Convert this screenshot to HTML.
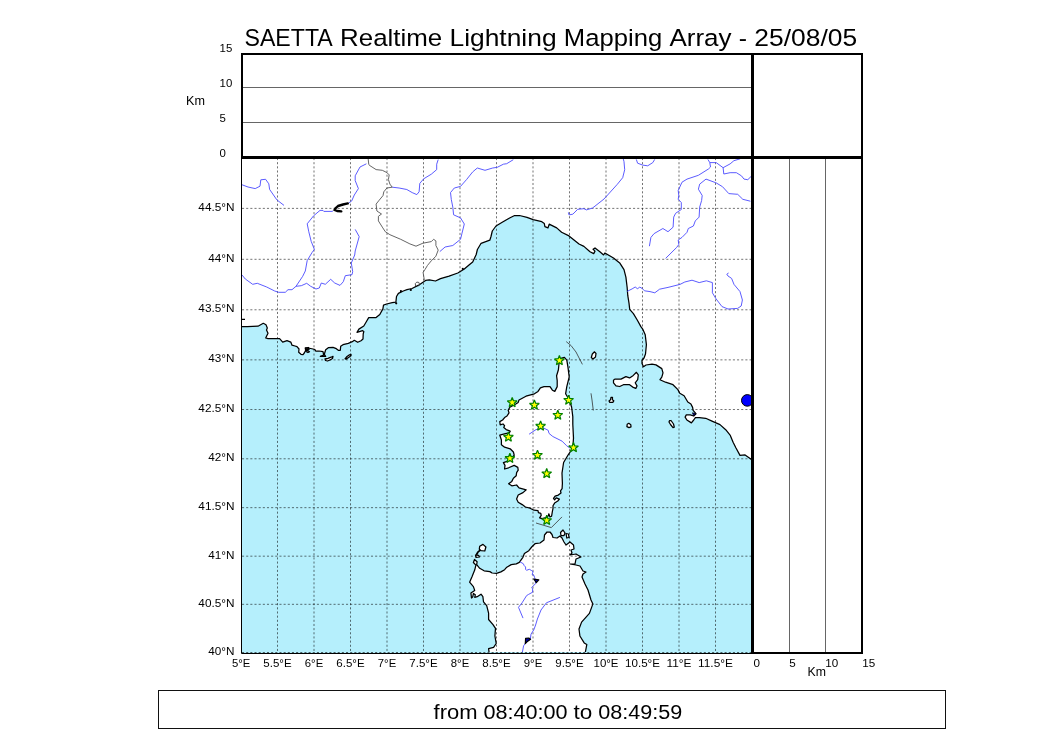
<!DOCTYPE html>
<html><head><meta charset="utf-8"><title>SAETTA</title>
<style>html,body{margin:0;padding:0;background:#fff;width:1050px;height:750px;overflow:hidden}
body{position:relative;font-family:"Liberation Sans",sans-serif}
svg text{font-family:"Liberation Sans",sans-serif}</style></head>
<body>
<svg width="1050" height="750" viewBox="0 0 1050 750" style="position:absolute;left:0;top:0;will-change:transform">
<defs><clipPath id="mc"><rect x="241.5" y="157.5" width="510" height="495.5"/></clipPath></defs>
<text x="244.50" y="46" font-size="24.5" textLength="88.31" lengthAdjust="spacingAndGlyphs" >SAETTA</text>
<text x="340.09" y="46" font-size="24.5" textLength="102.13" lengthAdjust="spacingAndGlyphs" >Realtime</text>
<text x="449.50" y="46" font-size="24.5" textLength="107.08" lengthAdjust="spacingAndGlyphs" >Lightning</text>
<text x="563.86" y="46" font-size="24.5" textLength="98.28" lengthAdjust="spacingAndGlyphs" >Mapping</text>
<text x="669.41" y="46" font-size="24.5" textLength="62.08" lengthAdjust="spacingAndGlyphs" >Array</text>
<text x="738.77" y="46" font-size="24.5" textLength="8.26" lengthAdjust="spacingAndGlyphs" >-</text>
<text x="754.32" y="46" font-size="24.5" textLength="102.85" lengthAdjust="spacingAndGlyphs" >25/08/05</text>
<g clip-path="url(#mc)">
<rect x="241" y="157" width="511" height="496" fill="#b5effc"/>
<polygon points="241.5,326.6 247.4,326.6 258.0,326.2 263.3,323.3 266.0,324.7 267.3,328.0 266.5,330.0 268.0,333.3 265.7,338.0 268.0,338.7 279.6,338.6 282.7,342.1 287.0,340.6 290.8,342.1 292.0,345.2 295.0,346.0 297.0,346.7 299.0,349.0 298.7,352.3 301.0,354.3 303.0,354.7 304.3,353.0 305.7,350.3 305.3,348.3 308.3,348.0 313.0,349.0 315.0,349.7 315.7,351.0 319.0,351.0 323.0,351.7 323.7,355.0 320.3,356.3 325.7,356.3 324.3,354.3 325.7,349.7 328.3,347.7 333.0,347.3 336.3,348.7 338.3,350.3 340.3,350.3 340.7,346.3 343.0,344.7 348.3,343.3 352.3,341.7 354.3,340.3 357.7,342.3 361.0,340.7 363.0,339.0 363.2,334.0 363.8,331.6 362.6,330.7 357.0,332.4 358.9,329.1 363.8,326.0 366.3,321.7 368.7,317.6 376.1,317.6 379.8,314.5 382.9,308.9 383.5,305.2 386.6,304.0 392.2,302.7 395.9,302.1 396.5,296.5 398.4,293.4 403.3,291.0 407.0,289.7 412.0,288.5 418.2,285.4 421.9,282.9 425.6,280.4 429.3,279.8 435.5,281.0 440.5,278.6 449.1,276.1 457.8,273.0 464.0,269.3 469.0,265.0 472.7,261.9 476.2,254.5 477.4,249.5 481.1,243.3 489.8,240.2 491.0,236.5 492.3,231.0 496.0,226.0 502.2,222.3 509.6,218.0 514.6,215.5 519.5,215.5 527.0,217.3 533.1,219.6 541.8,221.7 544.3,223.5 544.9,226.6 548.0,227.9 549.2,224.1 556.7,227.9 561.6,232.2 569.0,235.9 579.0,244.0 583.9,246.4 590.0,251.8 593.7,253.6 595.0,251.1 593.1,249.3 595.0,248.0 599.9,251.8 603.6,254.9 604.9,253.0 613.5,258.0 619.7,262.9 624.0,269.7 625.9,277.1 627.1,287.0 627.8,295.7 629.0,303.1 629.7,309.3 633.4,313.6 637.1,319.8 640.9,326.6 642.7,329.1 645.2,334.7 646.4,344.6 645.5,354.0 644.0,358.0 642.0,360.5 642.0,363.6 643.5,366.8 646.0,365.0 652.0,364.2 656.0,364.9 661.8,368.6 663.0,372.9 661.8,377.2 660.0,379.7 665.5,382.2 673.0,384.7 677.9,389.6 679.8,393.3 684.1,395.8 687.8,402.0 690.9,404.0 692.6,407.4 693.1,410.3 696.0,413.7 693.7,416.0 690.3,414.9 686.3,414.9 685.1,417.1 686.9,420.0 691.4,422.9 693.7,420.0 695.4,417.7 699.4,417.7 705.7,418.3 712.0,421.1 720.0,424.6 725.7,429.7 730.3,435.4 733.1,442.3 736.0,448.0 740.0,455.4 745.1,454.9 751.5,459.4 751.5,157.5 241.5,157.5" fill="#fff"/>
<polygon points="564.4,357.3 566.8,360.2 568.0,367.4 569.2,377.0 566.8,386.6 565.6,393.8 569.2,399.8 571.6,407.0 572.8,416.6 572.8,424.2 573.5,438.0 572.8,448.0 568.2,454.8 563.6,462.5 562.0,473.2 562.4,483.3 562.1,488.7 560.5,490.8 561.0,493.0 558.3,495.1 555.1,496.2 553.5,498.3 554.6,499.9 556.2,497.8 559.4,499.1 557.8,501.0 554.6,503.1 553.0,505.8 553.0,508.4 552.4,511.4 551.6,516.2 550.0,517.0 548.8,513.8 548.4,515.8 546.0,517.5 542.0,518.6 539.6,517.8 541.2,515.4 540.8,513.4 538.4,512.6 538.0,510.6 534.0,510.2 530.0,508.2 525.4,507.0 522.2,504.6 518.2,502.2 516.6,499.0 518.2,495.0 523.0,492.6 526.2,489.8 519.0,487.8 516.6,485.0 511.8,485.8 508.6,483.8 511.8,481.4 513.4,478.2 516.2,475.8 516.6,472.6 518.2,470.2 517.8,467.4 514.2,465.4 508.6,467.8 504.6,469.0 505.0,465.4 503.4,462.6 507.0,461.4 511.8,459.8 511.8,457.6 514.2,455.2 513.4,452.0 510.2,448.8 504.6,447.2 501.4,444.8 501.4,440.0 499.8,435.2 505.4,433.6 509.4,432.8 510.2,431.2 506.2,429.6 503.8,427.6 504.6,425.6 503.0,424.0 500.2,424.8 499.8,421.6 502.6,420.0 504.6,417.6 507.0,416.0 509.0,412.8 508.2,410.4 509.8,407.2 512.6,405.6 515.8,404.0 518.2,402.4 519.0,400.0 526.0,396.2 534.4,393.8 538.0,391.4 540.4,387.8 544.0,386.6 550.0,386.6 552.4,390.2 554.8,391.4 557.2,386.6 557.2,380.6 556.6,375.8 558.4,369.8 559.0,363.8 560.8,358.4" fill="#fff" stroke="#000" stroke-width="1.25" stroke-linejoin="round"/>
<polygon points="585.1,653.5 586.8,644.6 584.2,642.9 579.9,636.0 579.0,629.0 581.6,622.1 589.4,613.4 592.9,603.9 591.0,600.0 588.0,590.0 585.0,584.0 582.0,577.0 583.0,574.0 586.0,572.0 583.0,571.0 580.0,566.0 576.0,565.0 570.0,564.0 575.0,564.0 576.0,559.0 581.0,557.0 576.0,554.0 570.0,555.0 572.0,553.0 571.0,550.0 574.0,549.0 573.5,545.0 570.0,542.0 566.0,545.0 564.0,542.0 562.0,538.0 560.0,536.0 557.0,538.0 553.0,537.5 552.0,534.5 550.0,532.0 547.0,532.0 544.5,535.0 544.0,540.0 540.0,543.0 535.0,543.7 531.7,547.0 528.8,550.7 524.4,553.6 522.9,557.3 519.3,562.4 516.3,563.9 511.2,564.6 506.8,567.2 504.6,569.7 500.9,571.9 496.5,573.4 492.1,573.0 489.9,571.6 484.1,570.8 479.7,568.3 476.7,564.6 477.1,561.7 474.5,559.5 473.4,562.5 475.9,565.1 474.7,570.1 472.1,576.5 469.6,582.2 473.4,586.6 474.7,590.4 470.9,592.9 471.5,598.0 472.8,596.7 473.4,593.5 475.3,594.8 474.7,597.3 477.2,596.7 481.0,594.2 482.9,596.7 483.5,601.8 486.7,605.6 488.6,613.2 488.6,619.5 493.0,624.6 495.5,628.4 494.9,636.0 496.2,643.5 493.6,647.3 488.6,648.6 489.2,653.5" fill="#fff"/>
<polyline points="585.1,653.5 586.8,644.6 584.2,642.9 579.9,636.0 579.0,629.0 581.6,622.1 589.4,613.4 592.9,603.9 591.0,600.0 588.0,590.0 585.0,584.0 582.0,577.0 583.0,574.0 586.0,572.0 583.0,571.0 580.0,566.0 576.0,565.0 570.0,564.0 575.0,564.0 576.0,559.0 581.0,557.0 576.0,554.0 570.0,555.0 572.0,553.0 571.0,550.0 574.0,549.0 573.5,545.0 570.0,542.0 566.0,545.0 564.0,542.0 562.0,538.0 560.0,536.0 557.0,538.0 553.0,537.5 552.0,534.5 550.0,532.0 547.0,532.0 544.5,535.0 544.0,540.0 540.0,543.0 535.0,543.7 531.7,547.0 528.8,550.7 524.4,553.6 522.9,557.3 519.3,562.4 516.3,563.9 511.2,564.6 506.8,567.2 504.6,569.7 500.9,571.9 496.5,573.4 492.1,573.0 489.9,571.6 484.1,570.8 479.7,568.3 476.7,564.6 477.1,561.7 474.5,559.5 473.4,562.5 475.9,565.1 474.7,570.1 472.1,576.5 469.6,582.2 473.4,586.6 474.7,590.4 470.9,592.9 471.5,598.0 472.8,596.7 473.4,593.5 475.3,594.8 474.7,597.3 477.2,596.7 481.0,594.2 482.9,596.7 483.5,601.8 486.7,605.6 488.6,613.2 488.6,619.5 493.0,624.6 495.5,628.4 494.9,636.0 496.2,643.5 493.6,647.3 488.6,648.6 489.2,653.5" fill="none" stroke="#000" stroke-width="1.25" stroke-linejoin="round"/>
<polygon points="479.7,546.3 483.0,544.4 485.9,547.0 484.8,551.0 481.1,550.7 479.3,549.2" fill="#fff" stroke="#000" stroke-width="1.25" stroke-linejoin="round"/>
<polygon points="560.5,532.5 563.0,530.0 565.0,533.0 564.0,535.5 561.0,535.5" fill="#fff" stroke="#000" stroke-width="1.25" stroke-linejoin="round"/>
<polygon points="566.0,533.5 568.5,534.0 569.0,537.5 566.8,538.0" fill="#fff" stroke="#000" stroke-width="1.25" stroke-linejoin="round"/>
<polygon points="475.5,555.0 478.5,555.3 479.5,557.0 476.0,557.5" fill="#fff" stroke="#000" stroke-width="1.25" stroke-linejoin="round"/>
<polygon points="594.5,351.8 596.0,353.5 595.5,357.0 593.0,359.0 591.3,357.5 592.3,354.0" fill="#fff" stroke="#000" stroke-width="1.25" stroke-linejoin="round"/>
<polygon points="613.5,380.3 614.8,379.1 621.0,379.1 625.9,376.6 629.6,377.9 633.3,375.4 636.4,372.3 638.3,374.8 637.7,379.7 635.2,382.8 637.0,385.9 635.8,388.4 632.7,387.1 629.6,384.7 623.4,384.7 619.7,386.5 616.0,385.9 613.5,382.8" fill="#fff" stroke="#000" stroke-width="1.25" stroke-linejoin="round"/>
<polygon points="611.0,397.3 612.5,397.3 612.4,399.8 613.8,400.8 612.8,402.4 609.8,402.4 609.0,401.0 610.5,399.8" fill="#fff" stroke="#000" stroke-width="1.25" stroke-linejoin="round"/>
<polygon points="628.8,423.3 630.8,424.8 631.0,426.8 629.0,427.6 626.9,426.6 627.2,424.3" fill="#fff" stroke="#000" stroke-width="1.25" stroke-linejoin="round"/>
<polygon points="669.5,420.7 671.0,420.5 673.5,424.0 674.3,427.2 673.0,427.6 670.5,424.5 669.0,422.0" fill="#fff" stroke="#000" stroke-width="1.25" stroke-linejoin="round"/>
<polygon points="325.0,358.8 328.0,358.3 331.0,357.2 333.0,356.3 332.5,358.5 330.0,360.0 327.5,361.0 325.5,360.5" fill="#fff" stroke="#000" stroke-width="1.25" stroke-linejoin="round"/>
<polygon points="345.0,358.8 347.0,356.5 349.5,354.8 351.0,354.3 351.0,355.8 348.5,357.5 346.0,359.3" fill="#fff" stroke="#000" stroke-width="1.25" stroke-linejoin="round"/>
<polygon points="305.3,347.8 308.5,347.5 309.0,349.5 307.0,350.5 309.5,351.8 308.0,352.5 305.8,351.5 306.5,349.8" fill="#fff" stroke="#000" stroke-width="1.25" stroke-linejoin="round"/>
<polyline points="241.5,326.6 247.4,326.6 258.0,326.2 263.3,323.3 266.0,324.7 267.3,328.0 266.5,330.0 268.0,333.3 265.7,338.0 268.0,338.7 279.6,338.6 282.7,342.1 287.0,340.6 290.8,342.1 292.0,345.2 295.0,346.0 297.0,346.7 299.0,349.0 298.7,352.3 301.0,354.3 303.0,354.7 304.3,353.0 305.7,350.3 305.3,348.3 308.3,348.0 313.0,349.0 315.0,349.7 315.7,351.0 319.0,351.0 323.0,351.7 323.7,355.0 320.3,356.3 325.7,356.3 324.3,354.3 325.7,349.7 328.3,347.7 333.0,347.3 336.3,348.7 338.3,350.3 340.3,350.3 340.7,346.3 343.0,344.7 348.3,343.3 352.3,341.7 354.3,340.3 357.7,342.3 361.0,340.7 363.0,339.0 363.2,334.0 363.8,331.6 362.6,330.7 357.0,332.4 358.9,329.1 363.8,326.0 366.3,321.7 368.7,317.6 376.1,317.6 379.8,314.5 382.9,308.9 383.5,305.2 386.6,304.0 392.2,302.7 395.9,302.1 396.5,296.5 398.4,293.4 403.3,291.0 407.0,289.7 412.0,288.5 418.2,285.4 421.9,282.9 425.6,280.4 429.3,279.8 435.5,281.0 440.5,278.6 449.1,276.1 457.8,273.0 464.0,269.3 469.0,265.0 472.7,261.9 476.2,254.5 477.4,249.5 481.1,243.3 489.8,240.2 491.0,236.5 492.3,231.0 496.0,226.0 502.2,222.3 509.6,218.0 514.6,215.5 519.5,215.5 527.0,217.3 533.1,219.6 541.8,221.7 544.3,223.5 544.9,226.6 548.0,227.9 549.2,224.1 556.7,227.9 561.6,232.2 569.0,235.9 579.0,244.0 583.9,246.4 590.0,251.8 593.7,253.6 595.0,251.1 593.1,249.3 595.0,248.0 599.9,251.8 603.6,254.9 604.9,253.0 613.5,258.0 619.7,262.9 624.0,269.7 625.9,277.1 627.1,287.0 627.8,295.7 629.0,303.1 629.7,309.3 633.4,313.6 637.1,319.8 640.9,326.6 642.7,329.1 645.2,334.7 646.4,344.6 645.5,354.0 644.0,358.0 642.0,360.5 642.0,363.6 643.5,366.8 646.0,365.0 652.0,364.2 656.0,364.9 661.8,368.6 663.0,372.9 661.8,377.2 660.0,379.7 665.5,382.2 673.0,384.7 677.9,389.6 679.8,393.3 684.1,395.8 687.8,402.0 690.9,404.0 692.6,407.4 693.1,410.3 696.0,413.7 693.7,416.0 690.3,414.9 686.3,414.9 685.1,417.1 686.9,420.0 691.4,422.9 693.7,420.0 695.4,417.7 699.4,417.7 705.7,418.3 712.0,421.1 720.0,424.6 725.7,429.7 730.3,435.4 733.1,442.3 736.0,448.0 740.0,455.4 745.1,454.9 751.5,459.4" fill="none" stroke="#000" stroke-width="1.25" stroke-linejoin="round"/>
<path d="M277.50,158V652 M314.00,158V652 M350.50,158V652 M387.00,158V652 M423.50,158V652 M460.00,158V652 M496.50,158V652 M533.00,158V652 M569.50,158V652 M606.00,158V652 M642.50,158V652 M679.00,158V652 M715.50,158V652 M242,604.32H751 M242,556.18H751 M242,507.67H751 M242,458.79H751 M242,409.52H751 M242,359.86H751 M242,309.79H751 M242,259.30H751 M242,208.39H751" stroke="#000" stroke-width="1" stroke-dasharray="2.08 2.08" fill="none" opacity="0.55"/>
<polyline points="241.6,184.6 248.0,187.0 255.2,188.6 260.0,186.2 260.8,179.8 265.6,179.3 268.8,183.8 269.6,189.4 276.8,199.8 284.0,205.4" fill="none" stroke="#4a4aff" stroke-width="0.9" stroke-linejoin="round"/>
<polyline points="366.4,163.8 360.0,167.0 355.2,175.8 355.2,180.6 358.4,188.6 354.3,195.0 351.6,201.1 348.6,203.0" fill="none" stroke="#4a4aff" stroke-width="0.9" stroke-linejoin="round"/>
<polyline points="333.3,210.6 332.2,211.4 323.8,211.4 323.0,210.4 320.0,210.4 313.6,215.8 307.2,223.8 308.8,231.8 311.2,241.4 314.4,249.4 312.0,252.6 307.2,260.6 305.3,271.0 302.7,276.3 296.0,286.3" fill="none" stroke="#4a4aff" stroke-width="0.9" stroke-linejoin="round"/>
<polyline points="242.0,275.0 245.3,279.0 252.7,284.3 257.3,283.3 266.7,287.0 274.7,291.0 278.7,292.3 285.3,292.3 288.0,289.7 292.0,289.7 296.0,286.3 301.3,285.7 306.7,283.3 310.7,286.3 316.0,289.0 319.3,288.0 321.3,283.0 325.3,284.3 330.7,279.3 334.7,283.0 340.0,285.4 343.3,281.7 345.3,275.7 352.0,274.7 352.7,271.7 351.3,263.0 354.7,255.0 355.2,251.0 359.2,236.6 355.2,229.4" fill="none" stroke="#4a4aff" stroke-width="0.9" stroke-linejoin="round"/>
<polyline points="392.2,187.2 399.1,188.0 406.8,189.5 412.2,192.6 416.8,194.6 419.1,191.8 419.8,183.4 423.7,178.8 431.3,174.2 436.7,169.6 436.7,164.2 438.2,159.6" fill="none" stroke="#4a4aff" stroke-width="0.9" stroke-linejoin="round"/>
<polyline points="439.8,251.6 445.1,247.0 452.8,245.5 460.5,239.3 462.0,233.2 464.3,224.0 460.5,217.9 453.6,214.8 452.8,207.1 451.3,199.5 450.5,192.6 454.3,188.0 460.5,186.4 466.6,179.5 472.7,171.9 477.3,168.0 485.0,170.3 492.7,168.0 497.3,167.3 503.4,164.2 506.7,163.7 513.3,159.7" fill="none" stroke="#4a4aff" stroke-width="0.9" stroke-linejoin="round"/>
<polyline points="568.4,212.4 569.0,214.9 572.8,214.2 577.7,209.3 583.9,208.7 586.4,209.9 592.6,208.0 604.0,199.0 617.3,184.3 622.7,177.7 624.7,169.7 624.0,161.7 623.3,159.0" fill="none" stroke="#4a4aff" stroke-width="0.9" stroke-linejoin="round"/>
<polyline points="636.3,159.4 637.6,163.2 642.7,165.1 647.7,165.8 652.8,162.6 654.7,159.4" fill="none" stroke="#4a4aff" stroke-width="0.9" stroke-linejoin="round"/>
<polyline points="649.4,246.2 650.9,237.4 654.1,233.6 662.9,228.5 668.0,231.7 673.1,227.2 673.7,217.1 675.6,213.3 681.3,209.5 681.3,202.5 678.2,199.3 678.8,195.5 678.2,190.5 682.0,182.2 687.0,179.1 698.4,175.3 708.6,168.9 710.5,167.0 709.8,162.6 707.9,159.4" fill="none" stroke="#4a4aff" stroke-width="0.9" stroke-linejoin="round"/>
<polyline points="709.8,162.6 716.2,162.6 723.1,167.7 723.8,174.0 730.1,172.7 736.4,172.7 741.5,175.9 744.0,179.1 747.8,179.7 751.0,176.5" fill="none" stroke="#4a4aff" stroke-width="0.9" stroke-linejoin="round"/>
<polyline points="723.1,167.7 730.1,163.9 733.9,160.7 740.2,158.8" fill="none" stroke="#4a4aff" stroke-width="0.9" stroke-linejoin="round"/>
<polyline points="665.6,258.4 676.7,247.4 678.8,244.5 678.2,240.0 682.0,237.4 687.0,232.3 688.3,228.5 693.4,226.0 695.3,220.9 699.1,217.1 699.7,207.0 701.6,200.6 702.2,195.5 698.4,189.2 699.7,184.1 706.0,179.1 716.2,182.9 722.5,186.7 728.8,193.6 737.7,194.3 742.8,199.3 750.4,201.2" fill="none" stroke="#4a4aff" stroke-width="0.9" stroke-linejoin="round"/>
<polyline points="627.1,291.4 632.1,288.9 635.2,287.0 637.7,288.9 639.5,287.0 642.0,288.3 644.5,290.8 650.0,291.6 654.8,292.8 659.6,289.2 668.0,287.4 680.0,284.4 684.8,282.0 692.0,280.2 699.2,282.6 706.4,280.8 712.4,282.6 712.4,292.8 716.0,298.8 722.0,306.6 728.0,309.0 737.6,308.4 741.2,306.0 742.4,300.0 740.0,291.6 734.0,284.4 731.6,278.4 728.0,276.0 726.8,274.2 728.6,273.0" fill="none" stroke="#4a4aff" stroke-width="0.9" stroke-linejoin="round"/>
<polyline points="529.1,434.2 536.0,429.6 543.6,428.0 548.2,430.3 549.0,433.4 552.8,436.5 562.0,441.1 566.6,445.7 569.7,448.0" fill="none" stroke="#4a4aff" stroke-width="0.9" stroke-linejoin="round"/>
<polyline points="520.0,561.9 523.3,563.7 524.2,565.6 525.6,567.0 525.6,569.3 526.5,570.3 529.3,569.3 531.2,570.3 533.1,571.7 532.1,574.5 534.0,575.4 534.5,577.3 535.5,580.0 535.4,583.8 531.7,587.5 532.6,588.9 532.6,592.2 528.4,594.5 526.6,595.6 522.1,602.8 518.5,607.3 523.0,618.1" fill="none" stroke="#4a4aff" stroke-width="0.9" stroke-linejoin="round"/>
<polyline points="559.9,597.4 546.4,602.8 541.0,610.0 537.4,619.0 535.6,625.0 533.8,629.8 531.0,634.2 530.4,638.6 527.0,641.0 523.6,645.8 523.0,649.0 522.2,653.0" fill="none" stroke="#4a4aff" stroke-width="0.9" stroke-linejoin="round"/>
<polyline points="368.0,157.5 368.8,164.6 370.0,165.7 376.1,169.6 382.3,170.3 386.9,172.6 389.2,174.9 388.4,179.5 389.9,184.1 392.2,187.2 386.9,188.0 383.8,191.8 383.0,195.6 379.2,200.2 376.1,204.1 376.9,211.0 381.5,214.0 378.4,216.3 378.4,220.9 382.3,227.1 385.3,231.7 389.9,234.7 400.7,239.3 409.9,243.9 416.0,246.2 422.9,243.2 431.3,241.6 433.6,239.3 435.9,240.9 435.9,245.5 438.2,250.1 435.9,256.2 431.3,260.8 427.5,265.4 425.2,269.2 423.1,272.4 424.4,280.4" fill="none" stroke="#555" stroke-width="0.9" stroke-linejoin="round"/>
<polyline points="415.6,286 415.3,283.6 416.8,282.1 418.8,282.4 419.6,284.4 418.6,286.2" fill="none" stroke="#444" stroke-width="0.9"/>
<path d="M241.5,319.3H245" stroke="#000" stroke-width="1.2"/>
<polyline points="480.5,549.8 477.8,552.2 476.3,555" fill="none" stroke="#000" stroke-width="1.8"/>
<circle cx="400.9" cy="291.2" r="1.1" fill="#000"/>
<circle cx="410.8" cy="289.9" r="1.1" fill="#000"/>
<circle cx="396.2" cy="303.3" r="1.1" fill="#000"/>
<circle cx="462.8" cy="268.9" r="1.1" fill="#000"/>
<circle cx="307.5" cy="349.3" r="1.1" fill="#000"/>
<polyline points="347.8,203.4 343,204.5 338,206 335.2,208.7 334.5,210 337.1,211 341.3,211.4" fill="none" stroke="#000" stroke-width="2.4" stroke-linecap="round" stroke-linejoin="round"/>
<polygon points="533.8,579 538.8,579.8 536.3,582.6" fill="#0000aa" stroke="#000" stroke-width="1.2" stroke-linejoin="round"/>
<polygon points="525.6,638.4 528.8,638 530.6,639.2 527,641.8 525.3,643.6" fill="#0000aa" stroke="#000" stroke-width="1.2" stroke-linejoin="round"/>
<polygon points="692.5,412.8 695.8,413.8 693.5,415.5" fill="#0000cc" stroke="#000" stroke-width="0.8"/>
<circle cx="747.3" cy="400.4" r="5.8" fill="#0000ff" stroke="#000" stroke-width="1"/>
<polyline points="566.2,341.6 571.0,345.5 576.0,352.0 582.4,364.4" fill="none" stroke="#333" stroke-width="0.8"/>
<polyline points="591.0,393.3 592.0,400.0 593.3,410.5" fill="none" stroke="#333" stroke-width="0.8"/>
<polyline points="536.0,523.0 551.3,527.6 562.0,516.9" fill="none" stroke="#333" stroke-width="0.8"/>
<path d="M559.40,355.40 L560.66,358.77 L564.25,358.92 L561.44,361.16 L562.40,364.63 L559.40,362.64 L556.40,364.63 L557.36,361.16 L554.55,358.92 L558.14,358.77Z" fill="#ffff00" stroke="#008000" stroke-width="1.2" stroke-linejoin="miter" stroke-miterlimit="2.2"/>
<path d="M512.20,397.40 L513.46,400.77 L517.05,400.92 L514.24,403.16 L515.20,406.63 L512.20,404.64 L509.20,406.63 L510.16,403.16 L507.35,400.92 L510.94,400.77Z" fill="#ffff00" stroke="#008000" stroke-width="1.2" stroke-linejoin="miter" stroke-miterlimit="2.2"/>
<path d="M534.40,399.90 L535.66,403.27 L539.25,403.42 L536.44,405.66 L537.40,409.13 L534.40,407.14 L531.40,409.13 L532.36,405.66 L529.55,403.42 L533.14,403.27Z" fill="#ffff00" stroke="#008000" stroke-width="1.2" stroke-linejoin="miter" stroke-miterlimit="2.2"/>
<path d="M568.60,395.10 L569.86,398.47 L573.45,398.62 L570.64,400.86 L571.60,404.33 L568.60,402.34 L565.60,404.33 L566.56,400.86 L563.75,398.62 L567.34,398.47Z" fill="#ffff00" stroke="#008000" stroke-width="1.2" stroke-linejoin="miter" stroke-miterlimit="2.2"/>
<path d="M557.80,410.10 L559.06,413.47 L562.65,413.62 L559.84,415.86 L560.80,419.33 L557.80,417.34 L554.80,419.33 L555.76,415.86 L552.95,413.62 L556.54,413.47Z" fill="#ffff00" stroke="#008000" stroke-width="1.2" stroke-linejoin="miter" stroke-miterlimit="2.2"/>
<path d="M540.60,420.90 L541.86,424.27 L545.45,424.42 L542.64,426.66 L543.60,430.13 L540.60,428.14 L537.60,430.13 L538.56,426.66 L535.75,424.42 L539.34,424.27Z" fill="#ffff00" stroke="#008000" stroke-width="1.2" stroke-linejoin="miter" stroke-miterlimit="2.2"/>
<path d="M508.40,431.90 L509.66,435.27 L513.25,435.42 L510.44,437.66 L511.40,441.13 L508.40,439.14 L505.40,441.13 L506.36,437.66 L503.55,435.42 L507.14,435.27Z" fill="#ffff00" stroke="#008000" stroke-width="1.2" stroke-linejoin="miter" stroke-miterlimit="2.2"/>
<path d="M573.50,442.50 L574.76,445.87 L578.35,446.02 L575.54,448.26 L576.50,451.73 L573.50,449.74 L570.50,451.73 L571.46,448.26 L568.65,446.02 L572.24,445.87Z" fill="#ffff00" stroke="#008000" stroke-width="1.2" stroke-linejoin="miter" stroke-miterlimit="2.2"/>
<path d="M537.50,450.10 L538.76,453.47 L542.35,453.62 L539.54,455.86 L540.50,459.33 L537.50,457.34 L534.50,459.33 L535.46,455.86 L532.65,453.62 L536.24,453.47Z" fill="#ffff00" stroke="#008000" stroke-width="1.2" stroke-linejoin="miter" stroke-miterlimit="2.2"/>
<path d="M509.90,453.20 L511.16,456.57 L514.75,456.72 L511.94,458.96 L512.90,462.43 L509.90,460.44 L506.90,462.43 L507.86,458.96 L505.05,456.72 L508.64,456.57Z" fill="#ffff00" stroke="#008000" stroke-width="1.2" stroke-linejoin="miter" stroke-miterlimit="2.2"/>
<path d="M546.70,468.50 L547.96,471.87 L551.55,472.02 L548.74,474.26 L549.70,477.73 L546.70,475.74 L543.70,477.73 L544.66,474.26 L541.85,472.02 L545.44,471.87Z" fill="#ffff00" stroke="#008000" stroke-width="1.2" stroke-linejoin="miter" stroke-miterlimit="2.2"/>
<path d="M546.70,515.30 L547.96,518.67 L551.55,518.82 L548.74,521.06 L549.70,524.53 L546.70,522.54 L543.70,524.53 L544.66,521.06 L541.85,518.82 L545.44,518.67Z" fill="#ffff00" stroke="#008000" stroke-width="1.2" stroke-linejoin="miter" stroke-miterlimit="2.2"/>
</g>
<path d="M241.5,157.5V653.5H752" fill="none" stroke="#000" stroke-width="1"/>
<path d="M242,652.5H751" stroke="#b5effc" stroke-width="1"/>
<path d="M242,652.5H751" stroke="#000" stroke-width="1" stroke-dasharray="2.08 2.08" opacity="0.6"/>
<path d="M242,87.5H751 M242,122.5H751" stroke="#666" stroke-width="1"/>
<path d="M789.5,158V652 M825.5,158V652" stroke="#666" stroke-width="1"/>
<path d="M242,54 H862 V653 H752" fill="none" stroke="#000" stroke-width="2"/>
<path d="M242,53 V157" stroke="#000" stroke-width="2"/>
<path d="M752.5,53V653" stroke="#000" stroke-width="3"/>
<path d="M241,157.5H863" stroke="#000" stroke-width="3"/>
<text x="219.6" y="52.2" font-size="11" text-anchor="start" textLength="12.72" lengthAdjust="spacingAndGlyphs">15</text>
<text x="219.6" y="87.2" font-size="11" text-anchor="start" textLength="12.72" lengthAdjust="spacingAndGlyphs">10</text>
<text x="219.6" y="122.2" font-size="11" text-anchor="start" textLength="6.36" lengthAdjust="spacingAndGlyphs">5</text>
<text x="219.6" y="157.2" font-size="11" text-anchor="start" textLength="6.36" lengthAdjust="spacingAndGlyphs">0</text>
<text x="186.0" y="104.8" font-size="12.5" text-anchor="start" textLength="18.91" lengthAdjust="spacingAndGlyphs">Km</text>
<text x="234.5" y="655.0" font-size="11" text-anchor="end" textLength="26.21" lengthAdjust="spacingAndGlyphs">40°N</text>
<text x="234.5" y="607.0" font-size="11" text-anchor="end" textLength="36.14" lengthAdjust="spacingAndGlyphs">40.5°N</text>
<text x="234.5" y="559.0" font-size="11" text-anchor="end" textLength="26.21" lengthAdjust="spacingAndGlyphs">41°N</text>
<text x="234.5" y="510.0" font-size="11" text-anchor="end" textLength="36.14" lengthAdjust="spacingAndGlyphs">41.5°N</text>
<text x="234.5" y="461.0" font-size="11" text-anchor="end" textLength="26.21" lengthAdjust="spacingAndGlyphs">42°N</text>
<text x="234.5" y="412.0" font-size="11" text-anchor="end" textLength="36.14" lengthAdjust="spacingAndGlyphs">42.5°N</text>
<text x="234.5" y="362.0" font-size="11" text-anchor="end" textLength="26.21" lengthAdjust="spacingAndGlyphs">43°N</text>
<text x="234.5" y="312.0" font-size="11" text-anchor="end" textLength="36.14" lengthAdjust="spacingAndGlyphs">43.5°N</text>
<text x="234.5" y="262.0" font-size="11" text-anchor="end" textLength="26.21" lengthAdjust="spacingAndGlyphs">44°N</text>
<text x="234.5" y="211.0" font-size="11" text-anchor="end" textLength="36.14" lengthAdjust="spacingAndGlyphs">44.5°N</text>
<text x="241.2" y="667.4" font-size="11" text-anchor="middle" textLength="18.39" lengthAdjust="spacingAndGlyphs">5°E</text>
<text x="277.5" y="667.4" font-size="11" text-anchor="middle" textLength="28.31" lengthAdjust="spacingAndGlyphs">5.5°E</text>
<text x="314.0" y="667.4" font-size="11" text-anchor="middle" textLength="18.39" lengthAdjust="spacingAndGlyphs">6°E</text>
<text x="350.5" y="667.4" font-size="11" text-anchor="middle" textLength="28.31" lengthAdjust="spacingAndGlyphs">6.5°E</text>
<text x="387.0" y="667.4" font-size="11" text-anchor="middle" textLength="18.39" lengthAdjust="spacingAndGlyphs">7°E</text>
<text x="423.5" y="667.4" font-size="11" text-anchor="middle" textLength="28.31" lengthAdjust="spacingAndGlyphs">7.5°E</text>
<text x="460.0" y="667.4" font-size="11" text-anchor="middle" textLength="18.39" lengthAdjust="spacingAndGlyphs">8°E</text>
<text x="496.5" y="667.4" font-size="11" text-anchor="middle" textLength="28.31" lengthAdjust="spacingAndGlyphs">8.5°E</text>
<text x="533.0" y="667.4" font-size="11" text-anchor="middle" textLength="18.39" lengthAdjust="spacingAndGlyphs">9°E</text>
<text x="569.5" y="667.4" font-size="11" text-anchor="middle" textLength="28.31" lengthAdjust="spacingAndGlyphs">9.5°E</text>
<text x="606.0" y="667.4" font-size="11" text-anchor="middle" textLength="25.00" lengthAdjust="spacingAndGlyphs">10°E</text>
<text x="642.5" y="667.4" font-size="11" text-anchor="middle" textLength="34.93" lengthAdjust="spacingAndGlyphs">10.5°E</text>
<text x="679.0" y="667.4" font-size="11" text-anchor="middle" textLength="25.00" lengthAdjust="spacingAndGlyphs">11°E</text>
<text x="715.5" y="667.4" font-size="11" text-anchor="middle" textLength="34.93" lengthAdjust="spacingAndGlyphs">11.5°E</text>
<text x="753.4" y="667.4" font-size="11" text-anchor="start" textLength="6.49" lengthAdjust="spacingAndGlyphs">0</text>
<text x="789.3" y="667.4" font-size="11" text-anchor="start" textLength="6.49" lengthAdjust="spacingAndGlyphs">5</text>
<text x="825.2" y="667.4" font-size="11" text-anchor="start" textLength="12.98" lengthAdjust="spacingAndGlyphs">10</text>
<text x="862.3" y="667.4" font-size="11" text-anchor="start" textLength="12.98" lengthAdjust="spacingAndGlyphs">15</text>
<text x="807.5" y="676.0" font-size="12.5" text-anchor="start" textLength="18.42" lengthAdjust="spacingAndGlyphs">Km</text>
<rect x="158.5" y="690.5" width="787" height="38" fill="none" stroke="#111" stroke-width="1"/>
<text x="433.60" y="718.8" font-size="20" textLength="43.98" lengthAdjust="spacingAndGlyphs" >from</text>
<text x="483.53" y="718.8" font-size="20" textLength="84.08" lengthAdjust="spacingAndGlyphs" >08:40:00</text>
<text x="573.55" y="718.8" font-size="20" textLength="18.79" lengthAdjust="spacingAndGlyphs" >to</text>
<text x="598.30" y="718.8" font-size="20" textLength="84.08" lengthAdjust="spacingAndGlyphs" >08:49:59</text>
</svg>
</body></html>
